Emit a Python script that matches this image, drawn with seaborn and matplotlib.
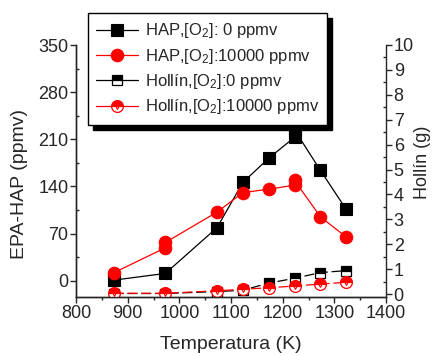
import numpy as np
import pandas as pd
import matplotlib
matplotlib.use("Agg")
import matplotlib.pyplot as plt
from matplotlib.lines import Line2D
from matplotlib.ticker import MultipleLocator
from matplotlib.legend_handler import HandlerTuple
import seaborn as sns

# ---------------- datos ----------------
temp = [873, 973, 1073, 1123, 1173, 1223, 1273, 1323]

# HAP con [O2] = 0 ppmv (eje izquierdo, ppmv); 1223 K tiene dos medidas
hap_0_temp = [873, 973, 1073, 1123, 1173, 1223, 1223, 1273, 1323]
hap_0 = [1, 11, 79, 146, 182, 213, 224, 164, 106]

# HAP con [O2] = 10000 ppmv; 973 y 1223 K tienen dos medidas
hap_1e4_temp = [873, 973, 973, 1073, 1123, 1173, 1223, 1223, 1273, 1323]
hap_1e4 = [12, 49, 57, 102, 131, 136, 142, 149, 95, 65]

# Hollin (eje derecho, g)
hollin_0 = [0.02, 0.02, 0.10, 0.15, 0.44, 0.63, 0.86, 0.94]
hollin_1e4 = [0.03, 0.03, 0.13, 0.19, 0.25, 0.32, 0.40, 0.47]

labels = [
    "HAP,[O$_2$]: 0 ppmv",
    "HAP,[O$_2$]:10000 ppmv",
    "Hollín,[O$_2$]:0 ppmv",
    "Hollín,[O$_2$]:10000 ppmv",
]

# ---------------- estilo ----------------
sns.set_style("ticks")
plt.rcParams["font.family"] = ["Liberation Sans", "DejaVu Sans"]
plt.rcParams["mathtext.fontset"] = "custom"
plt.rcParams["mathtext.rm"] = "Liberation Sans"
plt.rcParams["mathtext.it"] = "Liberation Sans:italic"
plt.rcParams["mathtext.bf"] = "Liberation Sans:bold"
plt.rcParams["axes.linewidth"] = 1.0

fig = plt.figure(figsize=(4.33, 3.56), dpi=100)
ax = fig.add_axes([76 / 433, 1 - 297 / 356, (386 - 76) / 433, (297 - 45) / 356])
ax2 = ax.twinx()

df_h0 = pd.DataFrame({"T": hap_0_temp, "v": hap_0})
df_h1 = pd.DataFrame({"T": hap_1e4_temp, "v": hap_1e4})
df_s = pd.DataFrame({"T": temp, "s0": hollin_0, "s1": hollin_1e4})

sq_kw = dict(marker="s", markersize=8, markeredgecolor="black", markeredgewidth=0.8)
ci_kw = dict(marker="o", markersize=9, markeredgecolor="red", markeredgewidth=0.8)
sq_half = dict(marker="s", markersize=7.5, fillstyle="top", markerfacecoloralt="white",
               markeredgecolor="black", markeredgewidth=0.9)
ci_half = dict(marker="o", markersize=8.5, fillstyle="top", markerfacecoloralt="white",
               markeredgecolor="red", markeredgewidth=0.9)
tri_kw = dict(marker="v", markersize=5, markerfacecolor="none",
              markeredgecolor="red", markeredgewidth=0.8)

sns.lineplot(data=df_h0, x="T", y="v", ax=ax, estimator=None, sort=False,
             color="black", lw=0.9, **sq_kw)
sns.lineplot(data=df_h1, x="T", y="v", ax=ax, estimator=None, sort=False,
             color="red", lw=0.9, **ci_kw)
sns.lineplot(data=df_s, x="T", y="s0", ax=ax2, estimator=None, sort=False,
             color="black", lw=0.9, dashes=(8, 3), **sq_half)
sns.lineplot(data=df_s, x="T", y="s1", ax=ax2, estimator=None, sort=False,
             color="red", lw=0.9, dashes=(8, 3), **ci_half)
sns.lineplot(data=df_s, x="T", y="s1", ax=ax2, estimator=None, sort=False,
             color="red", lw=0, **tri_kw)

# ---------------- ejes ----------------
ax.set_xlim(800, 1400)
ax.set_ylim(-24, 350)
ax2.set_ylim(-0.12, 10)
ax.xaxis.set_major_locator(MultipleLocator(100))
ax.xaxis.set_minor_locator(MultipleLocator(50))
ax.yaxis.set_major_locator(MultipleLocator(70))
ax.yaxis.set_minor_locator(MultipleLocator(35))
ax2.yaxis.set_major_locator(MultipleLocator(1))
ax2.yaxis.set_minor_locator(MultipleLocator(0.5))

for a in (ax, ax2):
    a.spines["top"].set_visible(False)
    a.tick_params(which="major", direction="out", length=4, width=1, labelsize=13, pad=1.5)
    a.tick_params(axis="y", which="minor", direction="in", length=2.5, width=1)
ax.tick_params(axis="x", which="minor", direction="out", length=2.5, width=1)
ax.spines["right"].set_visible(False)
ax2.spines["right"].set_visible(True)

ax.set_xlabel("Temperatura (K)", fontsize=14, labelpad=10)
ax.set_ylabel("EPA-HAP (ppmv)", fontsize=14)
ax2.set_ylabel("Hollín (g)", fontsize=13)
ax.yaxis.set_label_coords((28 - 76) / 310, (297 - 184) / 252)
ax2.yaxis.set_label_coords((414 - 76) / 310, (297 - 162) / 252)

# leyenda: lineas continuas en los simbolos, como en el original
h1 = Line2D([], [], color="black", lw=0.9, **sq_kw)
h2 = Line2D([], [], color="red", lw=0.9, markerfacecolor="red", **ci_kw)
h3 = Line2D([], [], color="black", lw=0.9, markerfacecolor="black", **sq_half)
h4 = Line2D([], [], color="red", lw=0.9, markerfacecolor="red", **ci_half)
h4b = Line2D([], [], color="red", lw=0, **tri_kw)

leg = fig.legend([h1, h2, h3, (h4, h4b)], labels,
                 loc="upper left", bbox_to_anchor=(88 / 433, 1 - 13 / 356),
                 bbox_transform=fig.transFigure, borderaxespad=0,
                 handler_map={tuple: HandlerTuple(ndivide=1)},
                 fontsize=12, frameon=True, fancybox=False,
                 shadow={"color": "black", "alpha": 1, "ox": 3.5, "oy": -3.5},
                 edgecolor="black", framealpha=1, labelspacing=0.38,
                 handlelength=2.5, handletextpad=0.4, borderpad=0.5)
leg.get_frame().set_linewidth(1.0)

fig.savefig("out.png", dpi=100)
